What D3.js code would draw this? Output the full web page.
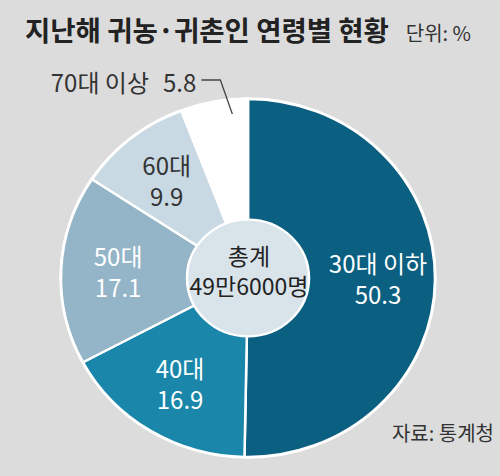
<!DOCTYPE html>
<html><head><meta charset="utf-8">
<script src="https://cdn.jsdelivr.net/npm/d3@7"></script>
<style>
html,body{margin:0;padding:0;background:#dcdcdc;}
svg{display:block;font-family:"Noto Sans CJK KR","Noto Sans",sans-serif;}
</style></head>
<body><svg id="c" width="500" height="476"></svg>
<script>
const categories = ["30대 이하", "40대", "50대", "60대", "70대 이상"];
const values = [50.3, 16.9, 17.1, 9.9, 5.8];
const valueLabels = ["50.3", "16.9", "17.1", "9.9", "5.8"];
const colors = ["#0b5f80", "#1a87aa", "#94b4c7", "#c8d9e3", "#ffffff"];
const textColors = ["#ffffff", "#ffffff", "#ffffff", "#333333", "#333333"];
const titleText = "지난해 귀농·귀촌인 연령별 현황";
const unitText = "단위: %";
const totalLines = ["총계", "49만6000명"];
const sourceText = "자료: 통계청";

const W = 500, H = 476;
const svg = d3.select("#c");
svg.append("rect").attr("width", W).attr("height", H).attr("fill", "#dcdcdc");

const cx = 248, cy = 278, R = 187, ySq = 0.957, r0 = 61;

svg.append("text").attr("x", 25).attr("y", 41)
  .attr("font-size", 27.5).attr("font-weight", 700).attr("fill", "#222")
  .text(titleText);
svg.append("text").attr("x", 471).attr("y", 41).attr("text-anchor", "end")
  .attr("font-size", 20).attr("fill", "#333").text(unitText);

const pie = d3.pie().sort(null).value(d => d)(values);
const arc = d3.arc().innerRadius(0).outerRadius(R);
const g = svg.append("g").attr("transform", `translate(${cx},${cy}) scale(1,${ySq})`);
g.selectAll("path.slice").data(pie).join("path").attr("class", "slice")
  .attr("d", arc).attr("fill", (d, i) => colors[i])
  .attr("stroke", "#ffffff").attr("stroke-width", 2.5);
g.append("circle").attr("r", R + 1).attr("fill", "none").attr("stroke", "#ffffff").attr("stroke-width", 1.5);
g.append("circle").attr("r", r0).attr("fill", "#d9e4ea").attr("stroke", "#ffffff").attr("stroke-width", 2.5);

// labels inside slices
const labelArc = d3.arc().innerRadius(130).outerRadius(130);
pie.forEach((d, i) => {
  if (i === 4) return;
  const [lx, ly] = labelArc.centroid(d);
  const x = cx + lx, y = cy + ly * ySq;
  const t = svg.append("text").attr("text-anchor", "middle").attr("font-size", 24)
    .attr("fill", textColors[i]);
  t.append("tspan").attr("x", x).attr("y", y - 6).text(categories[i]);
  t.append("tspan").attr("x", x).attr("y", y + 25).text(valueLabels[i]);
});

// outside label for the last slice with leader line
{
  const d = pie[4];
  const a = d.endAngle - 0.25 * (d.endAngle - d.startAngle);
  const rr = 0.92 * R;
  const ex = cx + Math.sin(a) * rr, ey = cy - Math.cos(a) * rr * ySq;
  const kx = ex - 12, ky = 80;
  svg.append("path").attr("d", `M${ex},${ey}L${kx},${ky}L${kx - 19},${ky}`)
    .attr("fill", "none").attr("stroke", "#444").attr("stroke-width", 1.3);
  const t = svg.append("text").attr("x", kx - 24).attr("y", 92).attr("text-anchor", "end")
    .attr("font-size", 24).attr("fill", textColors[4]);
  t.append("tspan").text(categories[4]);
  t.append("tspan").attr("dx", 14).text(valueLabels[4]);
}

// center total
const ct = svg.append("text").attr("text-anchor", "middle").attr("font-size", 23).attr("fill", "#222");
ct.append("tspan").attr("x", cx + 1).attr("y", 265).text(totalLines[0]);
ct.append("tspan").attr("x", cx + 1).attr("y", 295).text(totalLines[1]);

svg.append("text").attr("x", 494).attr("y", 441).attr("text-anchor", "end")
  .attr("font-size", 20).attr("fill", "#333").text(sourceText);
</script></body></html>
